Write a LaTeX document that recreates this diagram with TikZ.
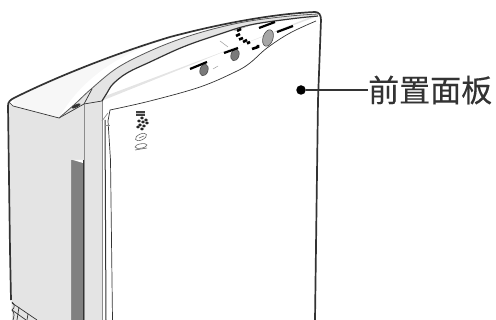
\documentclass[tikz,border=0pt]{standalone}
\usepackage{fontspec}
\newfontfamily\cjk[FakeBold=0.25]{Noto Sans CJK SC}
\definecolor{bodygrey}{HTML}{E4E4E4}
\definecolor{slot}{HTML}{808080}
\definecolor{ink}{HTML}{333333}
\usetikzlibrary{shapes.geometric}
\tikzset{
  outline/.style={draw=ink,line width=1.2pt,line join=round},
  thin edge/.style={draw=ink,line width=.7pt},
  pale edge/.style={draw=black!45,line width=.7pt},
  mark bar/.style={draw=black,line width=2.2pt},
  button/.style={ellipse,draw=black!70,line width=.6pt,inner sep=0pt,rotate=-18},
}
\begin{document}
\begin{tikzpicture}[x=1pt,y=-1pt]
\useasboundingbox (0,0) rectangle (496,320);
% side body
\fill[bodygrey] (9,103) -- (13,106) -- (59,118) -- (84,104) -- (84,320) -- (12,320) -- (10,250) -- cycle;
% front strip and band
\fill[bodygrey] (59,118) plot[smooth,tension=.6] coordinates {(59,118) (75,104) (90,90) (117,68) (150,51) (183,38) (217,28) (250,21) (290,16) (318,14)}
  plot[smooth,tension=.6] coordinates {(318,16) (290,19) (250,25) (217,35) (183,47) (150,62) (127,73) (113,84) (107,93) (102,101)}
  -- (102,320) -- (84,320) -- (84,104) -- cycle;
\fill[white!70!bodygrey] (14,99) .. controls (60,75) and (120,52) .. (170,38) .. controls (120,52) and (80,80) .. (59,118) -- (13,106) -- cycle;
% slot
\fill[slot] (71,160) -- (83,160) -- (83,320) -- (71,320) -- cycle;
\fill[white] (73,160) -- (83,160) -- (83,163) -- cycle;
\draw[pale edge] (71,160) -- (71,320);
\draw[thin edge] (83,160) -- (83,320);
% outer outline
\draw[outline,line width=1.7pt] (11,300) -- (10,250) -- (8,106)
  .. controls (8,102) and (10,100) .. (14,98)
  .. controls (60,75) and (120,52) .. (170,37)
  .. controls (215,25) and (270,14) .. (315,12)
  .. controls (319,12) and (321,15) .. (321,20)
  -- (318,100) -- (315,320);
% front edges of the side
\draw[thin edge] (10,103) -- (13,106) -- (59,118);
\draw[thin edge] (59,118) -- (84,104) -- (102,101);
\draw[pale edge] (84,104) -- (84,320);
\draw[pale edge] (102,101) -- (102,320);
% band curves
\draw[draw=black!65,line width=.8pt] plot[smooth,tension=.6] coordinates {(59,118) (75,104) (90,90) (117,68) (150,51) (183,38) (217,28) (250,21) (290,16) (318,14)};
\draw[thin edge] (84,104) -- (92,89);
\draw[outline] plot[smooth,tension=.6] coordinates {(102,101) (107,93) (113,84) (127,73) (150,62) (183,47) (217,35) (250,25) (290,19) (318,16)};
% lower edge of panel
\draw[thin edge] plot[smooth,tension=.6] coordinates {(110,110) (150,101) (200,87) (235,72) (250,63) (267,48) (290,33) (316,21)};
% panel gap lines
\draw[thin edge] (110,110) -- (108,121) -- (110.5,160) -- (112.5,320);
\draw[thin edge,line width=1pt] (105,120) -- (106,320);
\draw[pale edge] (102,121) -- (108,113);
\draw[pale edge] (105,125) -- (110,125);
% lock on shoulder
\fill[black!80,rotate around={25:(76,106)}] (76,106) ellipse (5 and 1.6);
% bottom vents
\draw[thin edge] (12,303) -- (37,320);
\draw[thin edge] (12,310) -- (26,320);
\draw[thin edge] (12,302) .. controls (15,304) and (15,308) .. (12,310) .. controls (15,313) and (14,317) .. (13,320);
\draw[thin edge] (19,307) -- (17,320);
\draw[thin edge] (28,314) -- (27,320);
% buttons
\node[button,fill=black!52,minimum width=8pt,minimum height=12pt] (b1) at (204,70) {};
\node[button,fill=black!52,minimum width=8pt,minimum height=12pt] (b2) at (235,55) {};
\node[button,fill=black!35,minimum width=10pt,minimum height=17pt] (b3) at (268,38) {};
% button marks
\draw[mark bar] (190,69) -- (207,62);
\draw[mark bar] (224,53) -- (238,48);
\draw[mark bar] (259,28) -- (275,22);
\draw[mark bar] (277,32) -- (293,26);
\draw[black!40,line width=.5pt] (213,69) -- (218,66);
\draw[black!40,line width=.5pt] (220,41) -- (228,47);
\draw[black!40,line width=.5pt] (234,31) -- (248,26);
% indicator row
\draw[black,line width=2.6pt] (236,36) -- (240,34) (237,31) -- (241,29) (239,39.5) -- (243,38) (243,42) -- (247,40) (247,43.5) -- (250,42) (252,49) -- (258,47) (258,48) -- (258,45);
% badges
\fill[black!75] (136,111) rectangle (145,116);
\fill[black!25] (136,113) rectangle (145,114);
\foreach \x/\y in {140/118,144/120,137/121,141/122,145/123,138/125,142/126,136/127,140/129}
  \fill[black!85] (\x,\y) -- +(2,-1.6) -- +(4,0) -- +(2,1.6) -- cycle;
\draw[black!60,line width=.6pt,rotate around={25:(141,137)}] (141,137) ellipse (6 and 3);
\draw[black!60,line width=.6pt] (139,138) -- (144,136);
\draw[black!60,line width=.6pt,rotate around={10:(141,146)}] (141,146) ellipse (6 and 2.2);
\draw[black!60,line width=.6pt] (135,150) -- (147,148);
% callout
\node[circle,fill=black,inner sep=0pt,minimum size=9.5pt] (dot) at (301,90) {};
\node[inner sep=0pt,anchor=west,text=ink] (label) at (368,90) {\cjk\fontsize{31}{31}\selectfont 前置面板};
\draw[ink,line width=1.3pt] (dot) -- (label);
\end{tikzpicture}
\end{document}
